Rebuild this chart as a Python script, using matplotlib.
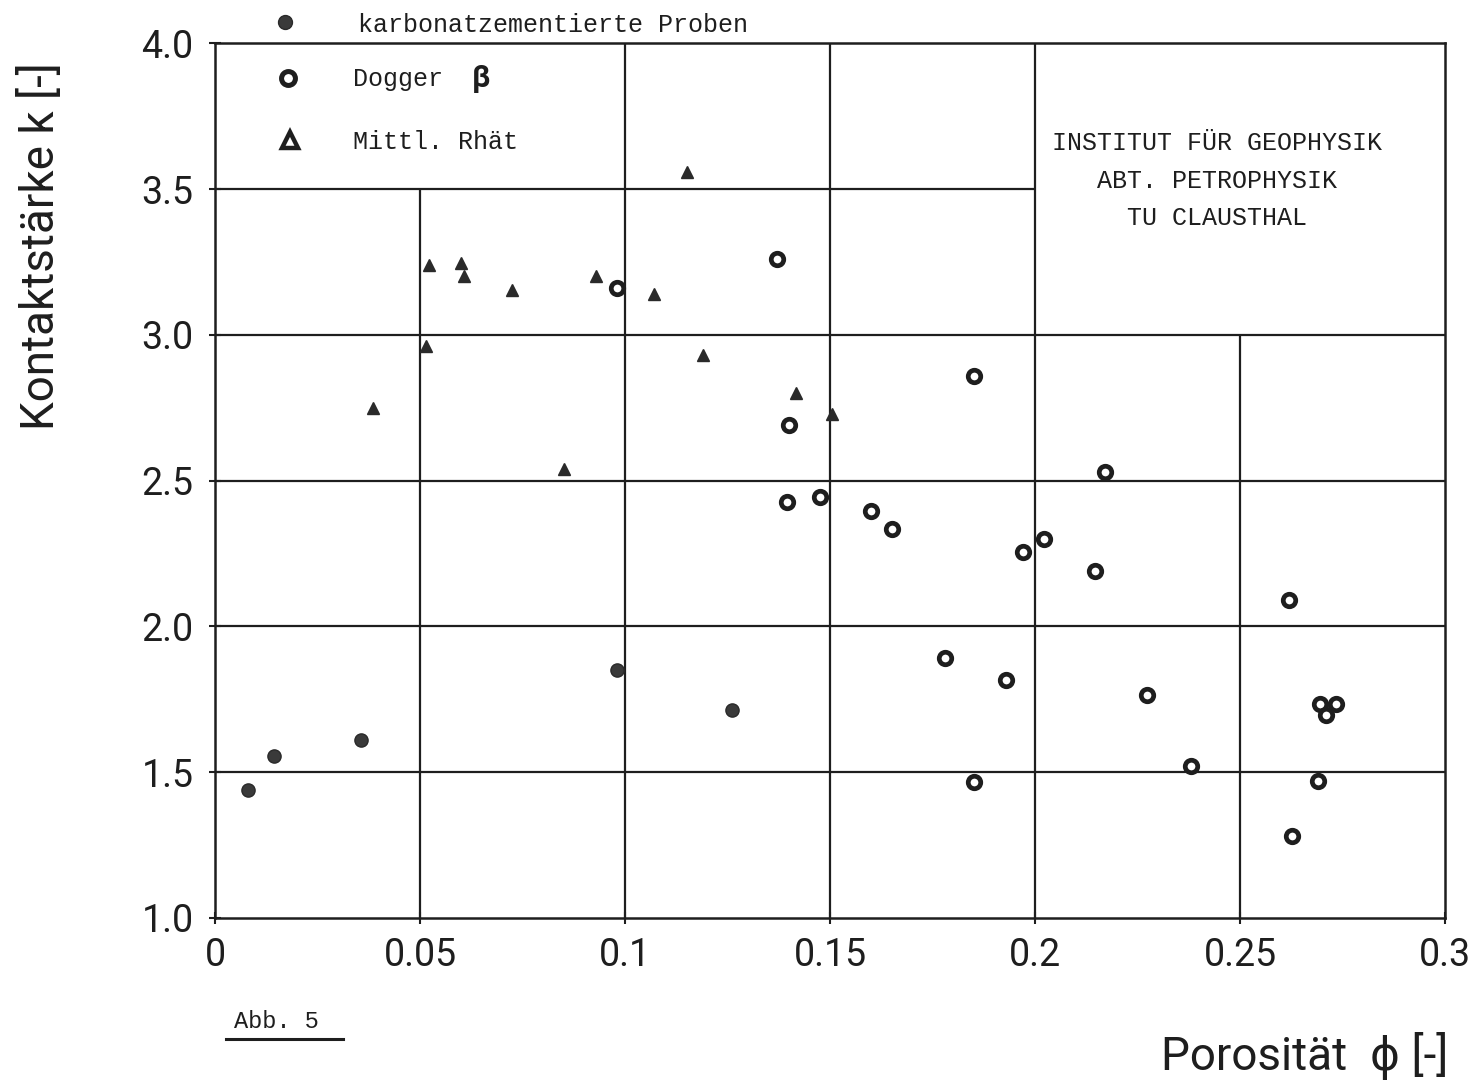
import matplotlib
matplotlib.use("Agg")
import matplotlib.pyplot as plt

# ---------- data ----------
karb_x = [0.008, 0.0144, 0.0356, 0.098, 0.126]
karb_y = [1.44, 1.555, 1.61, 1.85, 1.715]

dogger_x = [0.098, 0.137, 0.185, 0.140, 0.1396, 0.1476, 0.160, 0.165, 0.217,
            0.197, 0.2023, 0.2146, 0.262, 0.178, 0.193, 0.2274, 0.2694, 0.2734,
            0.2709, 0.238, 0.185, 0.269, 0.2626]
dogger_y = [3.16, 3.26, 2.86, 2.69, 2.425, 2.445, 2.395, 2.335, 2.53,
            2.255, 2.30, 2.19, 2.09, 1.89, 1.815, 1.765, 1.735, 1.735,
            1.695, 1.52, 1.465, 1.47, 1.28]

rhaet_x = [0.0385, 0.0515, 0.0523, 0.060, 0.0607, 0.0724, 0.085, 0.093,
           0.107, 0.115, 0.119, 0.1418, 0.1505]
rhaet_y = [2.75, 2.96, 3.24, 3.245, 3.20, 3.155, 2.54, 3.20,
           3.14, 3.56, 2.93, 2.80, 2.73]

x_ticks = [0, 0.05, 0.1, 0.15, 0.2, 0.25, 0.3]
x_labels = ["0", "0.05", "0.1", "0.15", "0.2", "0.25", "0.3"]
y_ticks = [1.0, 1.5, 2.0, 2.5, 3.0, 3.5, 4.0]
y_labels = ["1.0", "1.5", "2.0", "2.5", "3.0", "3.5", "4.0"]

# grid is only partly drawn in the original
h_lines = [(3.5, 0, 0.2), (3.0, 0, 0.3), (2.5, 0, 0.3), (2.0, 0, 0.3), (1.5, 0, 0.3)]
v_lines = [(0.05, 1.0, 3.5), (0.1, 1.0, 4.0), (0.15, 1.0, 4.0), (0.2, 1.0, 4.0), (0.25, 1.0, 3.0)]

ink = "#1e1e1e"
sans = ["Roboto", "DejaVu Sans"]
mono = ["Liberation Mono", "DejaVu Sans Mono"]

fig = plt.figure(figsize=(14.7, 10.8), dpi=100)
ax = fig.add_axes([0.1463, 0.15, 0.983 - 0.1463, 0.960 - 0.15])

for y, x0, x1 in h_lines:
    ax.hlines(y, x0, x1, color=ink, lw=1.6, zorder=1)
for x, y0, y1 in v_lines:
    ax.vlines(x, y0, y1, color=ink, lw=1.6, zorder=1)

ax.plot(karb_x, karb_y, "o", ms=9.5, mfc="#3a3a3a", mec="#2a2a2a", mew=1, zorder=3)
ax.plot(dogger_x, dogger_y, "o", ms=9, mfc="white", mec=ink, mew=3.4, zorder=3)
ax.plot(rhaet_x, rhaet_y, "^", ms=9, mfc="#2a2a2a", mec="#2a2a2a", mew=1, zorder=3)

ax.set_xlim(0, 0.3)
ax.set_ylim(1.0, 4.0)
ax.set_xticks(x_ticks)
ax.set_xticklabels(x_labels)
ax.set_yticks(y_ticks)
ax.set_yticklabels(y_labels)
ax.tick_params(direction="inout", length=9, width=1.5, color=ink,
               labelsize=27, labelcolor=ink)
ax.tick_params(axis="x", pad=9)
ax.tick_params(axis="y", pad=11)
for lab in ax.get_xticklabels() + ax.get_yticklabels():
    lab.set_family(sans)
for sp in ax.spines.values():
    sp.set_linewidth(1.8)
    sp.set_color(ink)

# axis titles
fig.text(41 / 1470, 1 - 246 / 1080, "Kontaktstärke k [-]", rotation=90,
         ha="center", va="center", fontsize=33, family=sans, color=ink)
fig.text(1448 / 1470, 1 - 1056 / 1080, "Porosität  ϕ [-]", ha="right", va="center",
         fontsize=33, family=sans, color=ink)

# legend, drawn by hand like the original
fx = lambda px: px / 1470
fy = lambda py: 1 - py / 1080
fig.lines.append(plt.Line2D([fx(285)], [fy(22)], marker="o", ms=10, mfc="#3a3a3a",
                            mec="#2a2a2a", transform=fig.transFigure))
fig.lines.append(plt.Line2D([fx(288)], [fy(78)], marker="o", ms=10, mfc="white",
                            mec=ink, mew=3.6, transform=fig.transFigure))
fig.lines.append(plt.Line2D([fx(290)], [fy(140)], marker="^", ms=12, mfc="white",
                            mec=ink, mew=3.2, transform=fig.transFigure))
fig.text(fx(358), fy(25), "karbonatzementierte Proben", ha="left", va="center",
         fontsize=18, family=mono, color=ink)
fig.text(fx(353), fy(79), "Dogger", ha="left", va="center", fontsize=18, family=mono, color=ink)
fig.text(fx(481), fy(78), "β", ha="center", va="center", fontsize=22, family=sans,
         fontweight="bold", color=ink)
fig.text(fx(353), fy(142), "Mittl. Rhät", ha="left", va="center", fontsize=18,
         family=mono, color=ink)

# institute stamp
for txt, py in [("INSTITUT FÜR GEOPHYSIK", 143), ("ABT. PETROPHYSIK", 181), ("TU CLAUSTHAL", 218)]:
    fig.text(fx(1217), fy(py), txt, ha="center", va="center", fontsize=18,
             family=mono, color=ink)

# figure number
fig.text(fx(234), fy(1022), "Abb. 5", ha="left", va="center", fontsize=17,
         family=mono, color=ink)
fig.lines.append(plt.Line2D([fx(226), fx(343)], [fy(1039), fy(1039)], lw=2.2,
                            color=ink, transform=fig.transFigure))

fig.savefig("out.png", dpi=100, facecolor="white")
